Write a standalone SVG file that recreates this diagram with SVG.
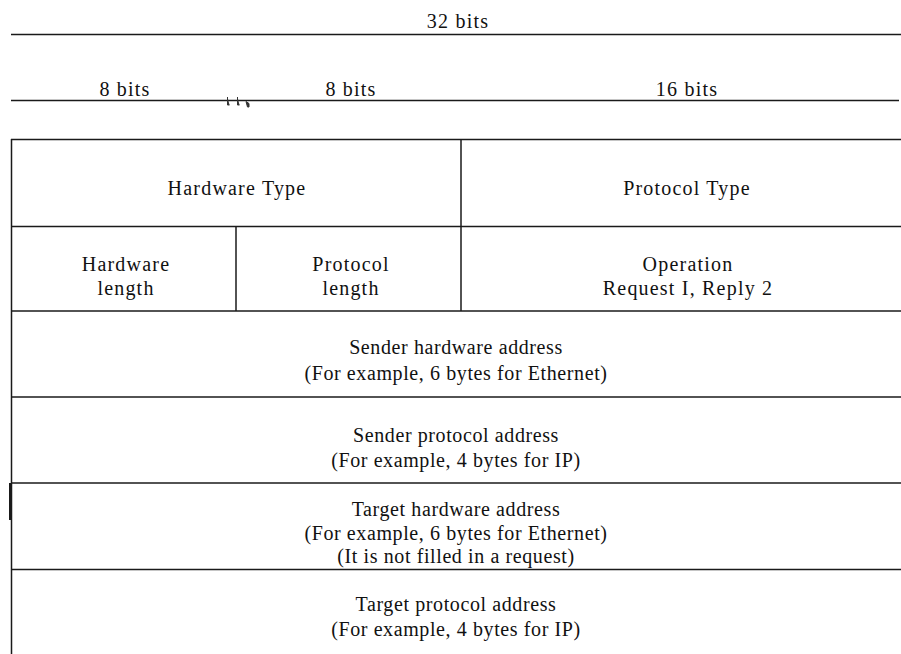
<svg xmlns="http://www.w3.org/2000/svg" width="901" height="654" viewBox="0 0 901 654">
<style>
.ln{stroke:#1a1a1a;stroke-width:1.5;fill:none}
text{font-family:"Liberation Serif","Times New Roman",serif;font-size:20px;fill:#111;text-anchor:middle}
.w{letter-spacing:1.2px}
.n{letter-spacing:0.6px}
</style>
<rect x="0" y="0" width="901" height="654" fill="#fff"/>
<g id="ruler">
<line class="ln" x1="11" y1="34.5" x2="901" y2="34.5"/>
<line class="ln" x1="11" y1="100.5" x2="899" y2="100.5"/>
<text class="w" x="458" y="28">32 bits</text>
<text class="w" x="125" y="96">8 bits</text>
<text class="w" x="351" y="96">8 bits</text>
<text class="w" x="687" y="96">16 bits</text>
<path d="M227.5 97v8h2M237.5 97v8h2M246 101.5l3 2v3.5h-1.5z" stroke="#333" stroke-width="1" fill="#333"/>
</g>
<g id="connectors">
<line class="ln" x1="11" y1="139.5" x2="901" y2="139.5"/>
<line class="ln" x1="11.5" y1="139" x2="11.5" y2="654"/>
<line class="ln" x1="11" y1="226.5" x2="901" y2="226.5"/>
<line class="ln" x1="11" y1="311" x2="901" y2="311"/>
<line class="ln" x1="11" y1="397" x2="901" y2="397"/>
<line class="ln" x1="11" y1="483" x2="901" y2="483"/>
<line class="ln" x1="11" y1="569.5" x2="901" y2="569.5"/>
<line class="ln" x1="461" y1="139" x2="461" y2="311"/>
<line class="ln" x1="236" y1="226" x2="236" y2="311"/>
<line x1="10.5" y1="483" x2="10.5" y2="520" stroke="#1a1a1a" stroke-width="3"/>
</g>
<g id="hardware-type"><text class="w" x="237" y="195">Hardware Type</text></g>
<g id="protocol-type"><text class="w" x="687" y="195">Protocol Type</text></g>
<g id="hardware-length"><text class="w" x="126" y="271">Hardware</text><text class="w" x="126" y="295">length</text></g>
<g id="protocol-length"><text class="w" x="351" y="271">Protocol</text><text class="w" x="351" y="295">length</text></g>
<g id="operation"><text class="w" x="688" y="271">Operation</text><text class="w" x="688" y="295">Request I, Reply 2</text></g>
<g id="sender-hw"><text class="n" x="456" y="354">Sender hardware address</text><text class="n" x="456" y="380">(For example, 6 bytes for Ethernet)</text></g>
<g id="sender-proto"><text class="n" x="456" y="442">Sender protocol address</text><text class="n" x="456" y="467">(For example, 4 bytes for IP)</text></g>
<g id="target-hw"><text class="n" x="456" y="516">Target hardware address</text><text class="n" x="456" y="540">(For example, 6 bytes for Ethernet)</text><text class="n" x="456" y="563">(It is not filled in a request)</text></g>
<g id="target-proto"><text class="n" x="456" y="611">Target protocol address</text><text class="n" x="456" y="636">(For example, 4 bytes for IP)</text></g>
</svg>
